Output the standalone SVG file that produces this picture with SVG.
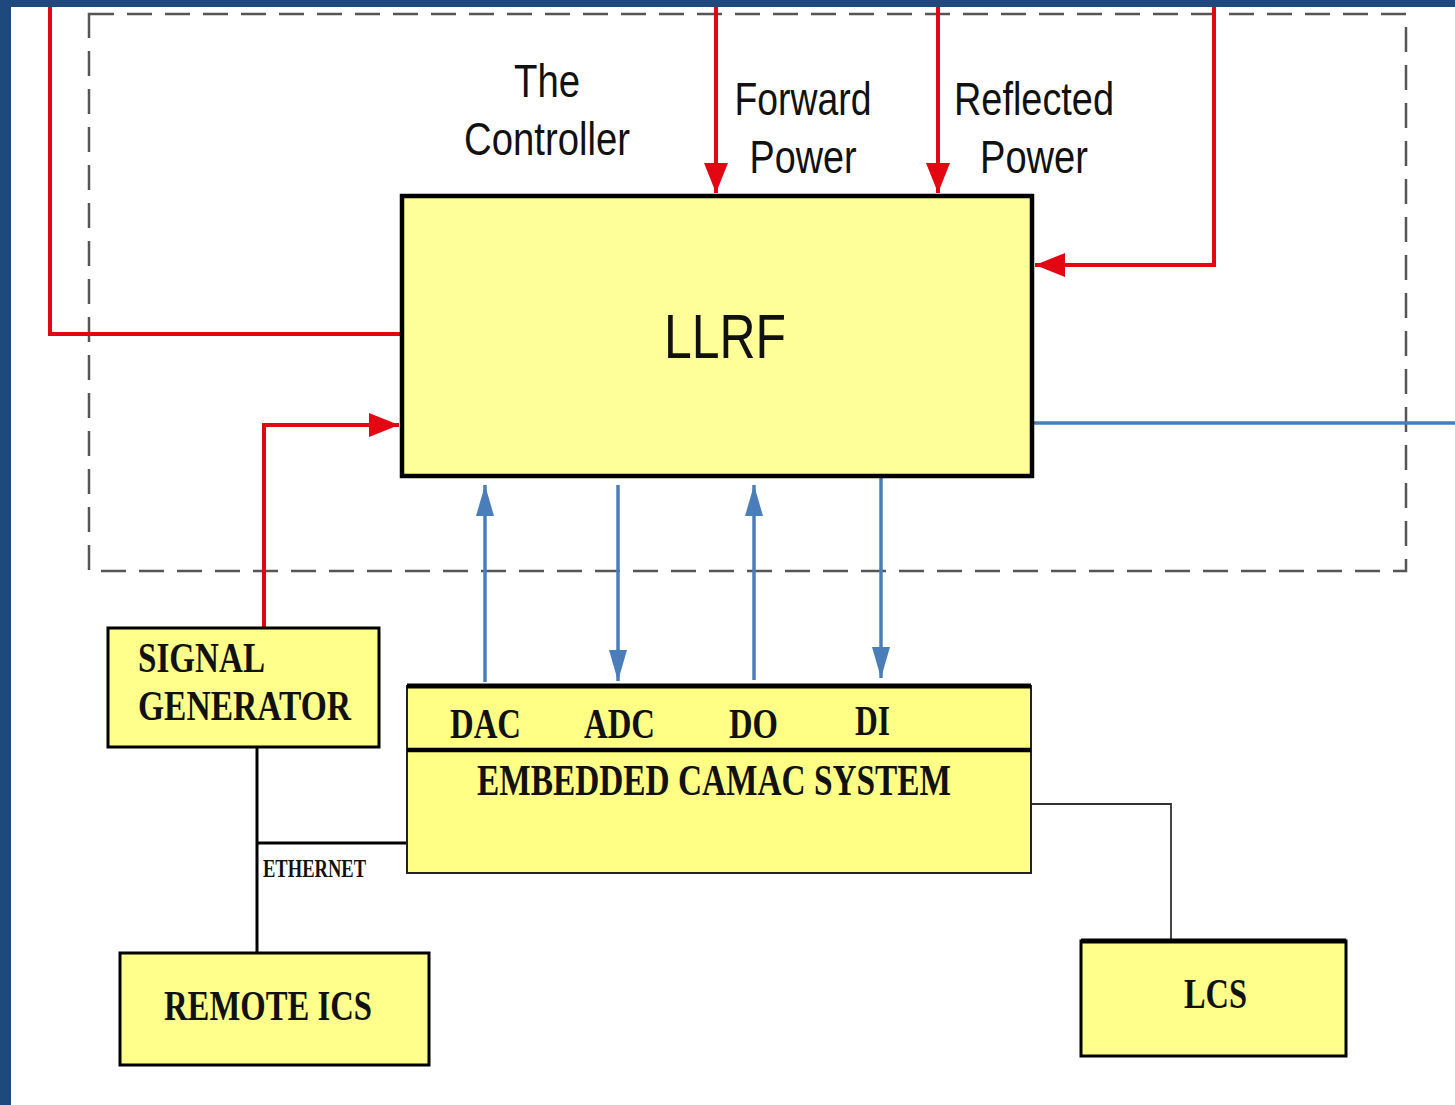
<svg xmlns="http://www.w3.org/2000/svg" width="1455" height="1105" viewBox="0 0 1455 1105">
<style>
.sans{font-family:"Liberation Sans",Arial,sans-serif;fill:#111}
.serif{font-family:"Liberation Serif","Times New Roman",serif;font-weight:bold;fill:#111}
.red{stroke:#e30613;stroke-width:4;fill:none}
.blue{stroke:#4a7ebb;stroke-width:3.5;fill:none}
.blk{stroke:#000;stroke-width:3;fill:none}
.box{fill:#ffff8c;stroke:#000;stroke-width:3}
</style>
<defs>
<marker id="ar" markerUnits="userSpaceOnUse" markerWidth="32" markerHeight="24" refX="30" refY="12" orient="auto">
<path d="M0,0 L30,12 L0,24 Z" fill="#e30613"/>
</marker>
<marker id="ab" markerUnits="userSpaceOnUse" markerWidth="32" markerHeight="20" refX="31" refY="10" orient="auto">
<path d="M0,1 L31,10 L0,19 Z" fill="#4a7ebb"/>
</marker>
<marker id="ak" markerUnits="userSpaceOnUse" markerWidth="10" markerHeight="10" refX="8" refY="5" orient="auto">
<path d="M0,1 L8,5 L0,9 Z" fill="#000"/>
</marker>
</defs>
<rect x="0" y="0" width="1455" height="1105" fill="#fff"/>
<rect x="0" y="0" width="1455" height="7" fill="#1f497d"/>
<rect x="0" y="0" width="11" height="1105" fill="#1f497d"/>

<g id="controller-boundary">
<rect x="89" y="14" width="1317" height="557" fill="none" stroke="#555" stroke-width="2.5" stroke-dasharray="25,13"/>
<text class="sans" x="547" y="97" font-size="46" text-anchor="middle" textLength="66" lengthAdjust="spacingAndGlyphs">The</text>
<text class="sans" x="547" y="155" font-size="46" text-anchor="middle" textLength="166" lengthAdjust="spacingAndGlyphs">Controller</text>
<text class="sans" x="803" y="115" font-size="46" text-anchor="middle" textLength="137" lengthAdjust="spacingAndGlyphs">Forward</text>
<text class="sans" x="803" y="173" font-size="46" text-anchor="middle" textLength="107" lengthAdjust="spacingAndGlyphs">Power</text>
<text class="sans" x="1034" y="115" font-size="46" text-anchor="middle" textLength="160" lengthAdjust="spacingAndGlyphs">Reflected</text>
<text class="sans" x="1034" y="173" font-size="46" text-anchor="middle" textLength="108" lengthAdjust="spacingAndGlyphs">Power</text>
</g>

<g id="connectors">
<path class="red" d="M50,7 V334 H401"/>
<path class="red" d="M716,7 V193" marker-end="url(#ar)"/>
<path class="red" d="M938,7 V193" marker-end="url(#ar)"/>
<path class="red" d="M1214,7 V265 H1035" marker-end="url(#ar)"/>
<path class="red" d="M264,627 V425 H399" marker-end="url(#ar)"/>
<path class="blue" d="M1032,423 H1455"/>
<path class="blue" d="M485,682 V485" marker-end="url(#ab)"/>
<path class="blue" d="M618,485 V681" marker-end="url(#ab)"/>
<path class="blue" d="M754,680 V485" marker-end="url(#ab)"/>
<path class="blue" d="M881,478 V678" marker-end="url(#ab)"/>
<path class="blk" d="M257,747 V953"/>
<path class="blk" d="M257,843 H414" marker-end="url(#ak)"/>
<path d="M1031,804 H1171 V941" stroke="#333" stroke-width="1.8" fill="none"/>
<text class="serif" x="263" y="877" font-size="25" textLength="103" lengthAdjust="spacingAndGlyphs">ETHERNET</text>
</g>

<g id="llrf">
<rect x="402" y="196" width="630" height="280" fill="#ffff99" stroke="#000" stroke-width="4.5"/>
<text class="sans" x="725" y="358" font-size="63" text-anchor="middle" textLength="122" lengthAdjust="spacingAndGlyphs">LLRF</text>
</g>

<g id="camac">
<rect x="407" y="686" width="624" height="187" fill="#ffff85" stroke="#222" stroke-width="2"/>
<line x1="407" y1="686" x2="1031" y2="686" stroke="#000" stroke-width="5"/>
<line x1="407" y1="750" x2="1031" y2="750" stroke="#000" stroke-width="4.5"/>
<text class="serif" x="450" y="738" font-size="42" textLength="71" lengthAdjust="spacingAndGlyphs">DAC</text>
<text class="serif" x="584" y="738" font-size="42" textLength="71" lengthAdjust="spacingAndGlyphs">ADC</text>
<text class="serif" x="729" y="738" font-size="42" textLength="49" lengthAdjust="spacingAndGlyphs">DO</text>
<text class="serif" x="855" y="735" font-size="42" textLength="35" lengthAdjust="spacingAndGlyphs">DI</text>
<text class="serif" x="477" y="795" font-size="44" textLength="474" lengthAdjust="spacingAndGlyphs">EMBEDDED CAMAC SYSTEM</text>
</g>

<g id="signal-generator">
<rect class="box" x="108" y="628" width="271" height="119"/>
<text class="serif" x="138" y="672" font-size="42" textLength="127" lengthAdjust="spacingAndGlyphs">SIGNAL</text>
<text class="serif" x="138" y="720" font-size="42" textLength="213" lengthAdjust="spacingAndGlyphs">GENERATOR</text>
</g>

<g id="remote-ics">
<rect class="box" x="120" y="953" width="309" height="112"/>
<text class="serif" x="164" y="1020" font-size="42" textLength="208" lengthAdjust="spacingAndGlyphs">REMOTE ICS</text>
</g>

<g id="lcs">
<rect class="box" x="1081" y="941" width="265" height="115"/>
<line x1="1081" y1="941" x2="1346" y2="941" stroke="#000" stroke-width="5"/>
<text class="serif" x="1184" y="1008" font-size="42" textLength="63" lengthAdjust="spacingAndGlyphs">LCS</text>
</g>
</svg>
